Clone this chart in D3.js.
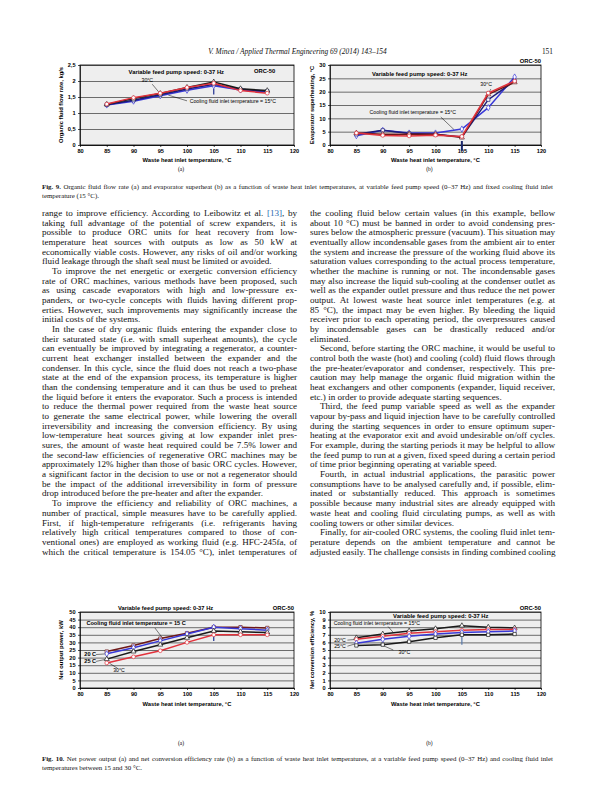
<!DOCTYPE html>
<html>
<head>
<meta charset="utf-8">
<script src="https://cdn.jsdelivr.net/npm/d3@7"></script>
<style>
  body { margin: 0; background: #fff; }
  #page { position: relative; width: 595px; height: 794px; overflow: hidden; font-family: "Liberation Serif", serif; color: #111; }
  #page svg { position: absolute; left: 0; top: 0; }
  .col { position: absolute; font-size: 9.1px; line-height: 9.68px; }
  .ln { white-space: nowrap; text-align: justify; text-align-last: justify; height: 9.68px; }
  .ln.end { text-align-last: left; }
  .ln.ind { text-indent: 10px; }
  .ref { color: #2a6ab0; }
  .cap { position: absolute; left: 42px; width: 511px; font-size: 6.9px; line-height: 9px; }
  .hdr { position: absolute; top: 47px; font-size: 7.4px; font-style: italic; }
</style>
</head>
<body>
<div id="page"></div>
<script>
// ---- chart data ----
const wasteTemp = [85, 90, 95, 100, 105, 110, 115];
const xTickValues = [80, 85, 90, 95, 100, 105, 110, 115, 120];

// Fig 9a organic fluid flow rate, kg/s
const flowTicks = [0, 0.5, 1, 1.5, 2, 2.5];
const flow15 = [1.25, 1.37, 1.54, 1.71, 1.85, 1.72, 1.66];
const flow20 = [1.26, 1.40, 1.57, 1.75, 1.90, 1.74, 1.68];
const flow25 = [1.27, 1.45, 1.61, 1.80, 1.97, 1.76, 1.70];
const flow30 = [1.28, 1.48, 1.62, 1.80, 1.93, 1.70, 1.62];
const flowFlag = [105, 1.58, 1.75];

// Fig 9b evaporator superheating, °C
const superheatTicks = [0, 5, 10, 15, 20, 25, 30];
const sh15 = [3.5, 5.5, 4.5, 4.5, 6.0, 14.0, 25.5];
const sh20 = [4.0, 5.5, 4.3, 4.0, 3.0, 17.0, 24.0];
const sh25 = [4.5, 4.0, 4.0, 4.0, 2.8, 19.0, 23.5];
const sh30 = [4.5, 3.6, 3.4, 3.7, 3.2, 19.5, 24.0];
const shFlag = [105, -2.2, 1.5];

// Fig 10a net output power, kW
const powerTicks = [0, 5, 10, 15, 20, 25, 30, 35, 40, 45, 50];
const pw15 = [24.0, 28.0, 32.5, 36.0, 40.0, 40.0, 39.5];
const pw20 = [22.5, 26.5, 31.0, 35.5, 40.0, 39.0, 38.0];
const pw25 = [19.0, 24.0, 28.5, 33.0, 37.5, 37.0, 36.5];
const pw30 = [16.5, 20.5, 24.5, 30.0, 35.0, 35.0, 35.0];
const pwFlag = [105, 31, 35];

// Fig 10b net conversion efficiency, %
const effTicks = [0, 1, 2, 3, 4, 5, 6, 7, 8, 9, 10];
const eff15 = [6.6, 7.1, 7.5, 7.8, 8.2, 8.0, 7.9];
const eff20 = [6.4, 6.8, 7.2, 7.4, 7.6, 7.7, 7.7];
const eff25 = [5.9, 6.4, 6.8, 7.1, 7.3, 7.4, 7.5];
const eff30 = [5.6, 5.7, 6.1, 6.6, 7.0, 7.0, 7.1];
const effFlag = [105, 5.7, 7.2];

// ---- page text ----
const leftParas = [
  { cont: true, ends: true, lines: [
    'range to improve efficiency. According to Leibowitz et al. <span class="ref">[13]</span>, by',
    'taking full advantage of the potential of screw expanders, it is',
    'possible to produce ORC units for heat recovery from low-',
    'temperature heat sources with outputs as low as 50 kW at',
    'economically viable costs. However, any risks of oil and/or working',
    'fluid leakage through the shaft seal must be limited or avoided.'] },
  { cont: false, ends: true, lines: [
    'To improve the net energetic or exergetic conversion efficiency',
    'rate of ORC machines, various methods have been proposed, such',
    'as using cascade evaporators with high and low-pressure ex-',
    'panders, or two-cycle concepts with fluids having different prop-',
    'erties. However, such improvements may significantly increase the',
    'initial costs of the systems.'] },
  { cont: false, ends: true, lines: [
    'In the case of dry organic fluids entering the expander close to',
    'their saturated state (i.e. with small superheat amounts), the cycle',
    'can eventually be improved by integrating a regenerator, a counter-',
    'current heat exchanger installed between the expander and the',
    'condenser. In this cycle, since the fluid does not reach a two-phase',
    'state at the end of the expansion process, its temperature is higher',
    'than the condensing temperature and it can thus be used to preheat',
    'the liquid before it enters the evaporator. Such a process is intended',
    'to reduce the thermal power required from the waste heat source',
    'to generate the same electrical power, while lowering the overall',
    'irreversibility and increasing the conversion efficiency. By using',
    'low-temperature heat sources giving at low expander inlet pres-',
    'sures, the amount of waste heat required could be 7.5% lower and',
    'the second-law efficiencies of regenerative ORC machines may be',
    'approximately 12% higher than those of basic ORC cycles. However,',
    'a significant factor in the decision to use or not a regenerator should',
    'be the impact of the additional irreversibility in form of pressure',
    'drop introduced before the pre-heater and after the expander.'] },
  { cont: false, ends: false, lines: [
    'To improve the efficiency and reliability of ORC machines, a',
    'number of practical, simple measures have to be carefully applied.',
    'First, if high-temperature refrigerants (i.e. refrigerants having',
    'relatively high critical temperatures compared to those of con-',
    'ventional ones) are employed as working fluid (e.g. HFC-245fa, of',
    'which the critical temperature is 154.05 °C), inlet temperatures of'] }
];

const rightParas = [
  { cont: true, ends: true, lines: [
    'the cooling fluid below certain values (in this example, bellow',
    'about 10 °C) must be banned in order to avoid condensing pres-',
    'sures below the atmospheric pressure (vacuum). This situation may',
    'eventually allow incondensable gases from the ambient air to enter',
    'the system and increase the pressure of the working fluid above its',
    'saturation values corresponding to the actual process temperature,',
    'whether the machine is running or not. The incondensable gases',
    'may also increase the liquid sub-cooling at the condenser outlet as',
    'well as the expander outlet pressure and thus reduce the net power',
    'output. At lowest waste heat source inlet temperatures (e.g. at',
    '85 °C), the impact may be even higher. By bleeding the liquid',
    'receiver prior to each operating period, the overpressures caused',
    'by incondensable gases can be drastically reduced and/or',
    'eliminated.'] },
  { cont: false, ends: true, lines: [
    'Second, before starting the ORC machine, it would be useful to',
    'control both the waste (hot) and cooling (cold) fluid flows through',
    'the pre-heater/evaporator and condenser, respectively. This pre-',
    'caution may help manage the organic fluid migration within the',
    'heat exchangers and other components (expander, liquid receiver,',
    'etc.) in order to provide adequate starting sequences.'] },
  { cont: false, ends: true, lines: [
    'Third, the feed pump variable speed as well as the expander',
    'vapour by-pass and liquid injection have to be carefully controlled',
    'during the starting sequences in order to ensure optimum super-',
    'heating at the evaporator exit and avoid undesirable on/off cycles.',
    'For example, during the starting periods it may be helpful to allow',
    'the feed pump to run at a given, fixed speed during a certain period',
    'of time prior beginning operating at variable speed.'] },
  { cont: false, ends: true, lines: [
    'Fourth, in actual industrial applications, the parasitic power',
    'consumptions have to be analysed carefully and, if possible, elim-',
    'inated or substantially reduced. This approach is sometimes',
    'possible because many industrial sites are already equipped with',
    'waste heat and cooling fluid circulating pumps, as well as with',
    'cooling towers or other similar devices.'] },
  { cont: false, ends: false, lines: [
    'Finally, for air-cooled ORC systems, the cooling fluid inlet tem-',
    'perature depends on the ambient temperature and cannot be',
    'adjusted easily. The challenge consists in finding combined cooling'] }
];

const page = d3.select("#page");

// header
page.append("div").attr("class", "hdr").style("left", "0px").style("width", "595px")
  .style("text-align", "center").text("V. Minea / Applied Thermal Engineering 69 (2014) 143–154");
page.append("div").attr("class", "hdr").style("left", "530px").style("width", "23px")
  .style("text-align", "right").style("font-style", "normal").text("151");

// text columns
function drawColumn(paras, left, width, top) {
  const col = page.append("div").attr("class", "col")
    .style("left", left + "px").style("top", top + "px").style("width", width + "px");
  paras.forEach(p => {
    p.lines.forEach((t, i) => {
      let cls = "ln";
      if (i === 0 && !p.cont) cls += " ind";
      if (i === p.lines.length - 1 && p.ends) cls += " end";
      col.append("div").attr("class", cls).html(t);
    });
  });
}
drawColumn(leftParas, 42, 255, 209);
drawColumn(rightParas, 310, 245, 209);

// captions
function drawCaption(top, label, line1, line2) {
  const c = page.append("div").attr("class", "cap").style("top", top + "px");
  c.append("div").attr("class", "ln").style("height", "9px").html("<b>" + label + "</b> " + line1);
  c.append("div").attr("class", "ln end").style("height", "9px").text(line2);
}
drawCaption(182, "Fig. 9.",
  "Organic fluid flow rate (a) and evaporator superheat (b) as a function of waste heat inlet temperatures, at variable feed pump speed (0–37 Hz) and fixed cooling fluid inlet",
  "temperature (15 °C).");
drawCaption(754, "Fig. 10.",
  "Net power output (a) and net conversion efficiency rate (b) as a function of waste heat inlet temperatures, at a variable feed pump speed (0–37 Hz) and cooling fluid inlet",
  "temperatures between 15 and 30 °C.");

// charts
const svg = page.append("svg").attr("width", 595).attr("height", 794);
const sans = '"Liberation Sans", Arial, sans-serif';
const narrow = '"Liberation Sans Narrow", "Liberation Sans", Arial, sans-serif';
const comma = d => d3.format(".1~f")(d).replace(".", ",");

function drawChart(cfg) {
  const x = d3.scaleLinear().domain([80, 120]).range([cfg.left, cfg.left + cfg.width]);
  const y = d3.scaleLinear().domain([cfg.yTicks[0], cfg.yTicks[cfg.yTicks.length - 1]])
    .range([cfg.top + cfg.height, cfg.top]);
  const g = svg.append("g");

  g.append("rect").attr("x", cfg.left).attr("y", cfg.top)
    .attr("width", cfg.width).attr("height", cfg.height).attr("fill", "#eeeeee");

  g.append("g").attr("transform", `translate(${cfg.left},0)`)
    .call(d3.axisLeft(y).tickValues(cfg.yTicks).tickSize(-cfg.width).tickFormat(""))
    .call(s => s.select(".domain").remove())
    .selectAll("line").attr("stroke", "#333").attr("stroke-width", 0.7);

  g.append("rect").attr("x", cfg.left).attr("y", cfg.top)
    .attr("width", cfg.width).attr("height", cfg.height)
    .attr("fill", "none").attr("stroke", "#000").attr("stroke-width", 0.8);

  const ax = g.append("g").attr("transform", `translate(0,${cfg.top + cfg.height})`)
    .call(d3.axisBottom(x).tickValues(xTickValues).tickSize(2).tickPadding(2.5).tickSizeOuter(0));
  const ay = g.append("g").attr("transform", `translate(${cfg.left},0)`)
    .call(d3.axisLeft(y).tickValues(cfg.yTicks).tickFormat(cfg.yFormat || d3.format("d"))
      .tickSize(2).tickPadding(2.5).tickSizeOuter(0));
  [ax, ay].forEach(a => {
    a.attr("font-family", sans).attr("font-size", 5.6).attr("font-weight", "bold");
    a.selectAll("path, line").attr("stroke", "#000").attr("stroke-width", 0.7);
    a.selectAll("text").attr("fill", "#000");
  });

  g.append("text").attr("x", cfg.left + cfg.width / 2).attr("y", cfg.top + cfg.height + cfg.xTitleDy)
    .attr("text-anchor", "middle").attr("font-family", sans).attr("font-size", 5.8)
    .attr("font-weight", "bold").text("Waste heat inlet temperature, °C");
  g.append("text").attr("transform", `translate(${cfg.yTitleX},${cfg.top + cfg.height / 2}) rotate(-90)`)
    .attr("text-anchor", "middle").attr("font-family", sans).attr("font-size", 5.8)
    .attr("font-weight", "bold").text(cfg.yTitle);
  g.append("text").attr("x", cfg.left + cfg.width / 2 - 6).attr("y", cfg.panelY)
    .attr("text-anchor", "middle").attr("font-family", '"Liberation Serif", serif')
    .attr("font-size", 5.5).text(cfg.panel);

  // annotation leaders behind lines
  cfg.notes.filter(n => n.leader).forEach(n => {
    g.append("line").attr("x1", x(n.leader[0])).attr("y1", y(n.leader[1]))
      .attr("x2", x(n.leader[2])).attr("y2", y(n.leader[3]))
      .attr("stroke", "#000").attr("stroke-width", 0.5);
  });

  // flag segment at 105
  g.append("line").attr("x1", x(cfg.flag[0])).attr("x2", x(cfg.flag[0]))
    .attr("y1", y(cfg.flag[1])).attr("y2", y(cfg.flag[2]))
    .attr("stroke", cfg.flagColor || "#1f2f8f").attr("stroke-width", cfg.flagWidth || 1.2);

  const line = d3.line().x((d, i) => x(wasteTemp[i])).y(d => y(d));
  cfg.series.forEach(s => {
    g.append("path").datum(s.values).attr("d", line)
      .attr("fill", "none").attr("stroke", s.color).attr("stroke-width", 1.5);
    g.selectAll(null).data(s.values).enter().append("path")
      .attr("transform", (d, i) => `translate(${x(wasteTemp[i])},${y(d)})`)
      .attr("d", d3.symbol().type(s.marker).size(11))
      .attr("fill", "#fff").attr("stroke", s.color).attr("stroke-width", 0.7);
  });

  cfg.notes.forEach(n => {
    g.append("text").attr("x", x(n.x)).attr("y", y(n.y))
      .attr("text-anchor", n.anchor || "start")
      .attr("font-family", n.bold ? sans : narrow)
      .attr("font-weight", n.bold ? "bold" : "normal")
      .attr("font-size", n.size || 5.2).attr("fill", "#000").text(n.text);
  });
}

const blue = "#3838d8", navy = "#1c1c78", black = "#1a1a1a", red = "#e2323c", maroon = "#6e1818";

drawChart({
  left: 80, top: 65, width: 214, height: 80, yTicks: flowTicks, yFormat: comma,
  yTitle: "Organic fluid flow rate, kg/s", yTitleX: 63, xTitleDy: 17, panel: "(a)", panelY: 171,
  flag: flowFlag,
  series: [
    { values: flow15, color: blue, marker: d3.symbolDiamond },
    { values: flow20, color: navy, marker: d3.symbolSquare },
    { values: flow25, color: black, marker: d3.symbolTriangle },
    { values: flow30, color: red, marker: d3.symbolCircle }
  ],
  notes: [
    { text: "Variable feed pump speed: 0-37 Hz", x: 98, y: 2.22, anchor: "middle", bold: true, size: 5.8 },
    { text: "ORC-50", x: 114.5, y: 2.25, anchor: "middle", bold: true, size: 5.8 },
    { text: "30°C", x: 91.5, y: 1.98, leader: [93.5, 1.9, 95, 1.6] },
    { text: "Cooling fluid inlet temperature = 15°C", x: 100.5, y: 1.3, leader: [100, 1.38, 96.5, 1.56] }
  ]
});

drawChart({
  left: 330, top: 65, width: 211, height: 80, yTicks: superheatTicks,
  yTitle: "Evaporator superheating, °C", yTitleX: 314, xTitleDy: 17, panel: "(b)", panelY: 171,
  flag: shFlag, flagColor: "#1c2a6e", flagWidth: 2,
  series: [
    { values: sh15, color: blue, marker: d3.symbolDiamond },
    { values: sh20, color: navy, marker: d3.symbolSquare },
    { values: sh25, color: maroon, marker: d3.symbolTriangle },
    { values: sh30, color: red, marker: d3.symbolCircle }
  ],
  notes: [
    { text: "Variable feed pump speed:  0-37 Hz", x: 97, y: 26, anchor: "middle", bold: true, size: 5.8 },
    { text: "ORC-50", x: 120, y: 30.8, anchor: "end", bold: true, size: 5.8 },
    { text: "30°C", x: 108.5, y: 22, leader: [110.5, 21, 109.5, 17.5] },
    { text: "Cooling fluid inlet temperature = 15°C", x: 87.5, y: 11.5, leader: [101, 10.5, 103.5, 5.8] }
  ]
});

drawChart({
  left: 80, top: 612, width: 214, height: 76, yTicks: powerTicks,
  yTitle: "Net output power, kW", yTitleX: 63, xTitleDy: 18, panel: "(a)", panelY: 745,
  flag: pwFlag,
  series: [
    { values: pw15, color: maroon, marker: d3.symbolSquare },
    { values: pw20, color: blue, marker: d3.symbolDiamond },
    { values: pw25, color: black, marker: d3.symbolTriangle },
    { values: pw30, color: red, marker: d3.symbolCircle }
  ],
  notes: [
    { text: "Variable feed pump speed: 0-37 Hz", x: 96, y: 51.3, anchor: "middle", bold: true, size: 5.8 },
    { text: "ORC-50", x: 120, y: 51.3, anchor: "end", bold: true, size: 5.8 },
    { text: "Cooling fluid inlet temperature = 15 C", x: 81.2, y: 41.3, bold: true, size: 5.6, leader: [94, 39.5, 95.5, 32.5] },
    { text: "20 C", x: 80.8, y: 20.8, bold: true, size: 5.6, leader: [83, 22, 85, 22.5] },
    { text: "25 C", x: 80.8, y: 16.3, bold: true, size: 5.6, leader: [83, 17.5, 85, 19] },
    { text: "30°C", x: 86.2, y: 10.8, leader: [87, 13, 85.5, 16.3] }
  ]
});

drawChart({
  left: 330, top: 612, width: 211, height: 76, yTicks: effTicks,
  yTitle: "Net conversion efficiency, %", yTitleX: 314, xTitleDy: 18, panel: "(b)", panelY: 745,
  flag: effFlag, flagColor: "#5878a8",
  series: [
    { values: eff15, color: black, marker: d3.symbolTriangle },
    { values: eff20, color: red, marker: d3.symbolCircle },
    { values: eff25, color: blue, marker: d3.symbolDiamond },
    { values: eff30, color: black, marker: d3.symbolSquare }
  ],
  notes: [
    { text: "Variable feed pump speed: 0-37 Hz", x: 101, y: 9.25, anchor: "middle", bold: true, size: 5.8 },
    { text: "ORC-50", x: 120, y: 10.25, anchor: "end", bold: true, size: 5.8 },
    { text: "Cooling fluid inlet temperature = 15°C", x: 80.7, y: 8.3, leader: [91, 8.1, 92, 7.3] },
    { text: "20°C", x: 80.8, y: 6.1, leader: [83.3, 6.3, 85, 6.4] },
    { text: "25°C", x: 80.8, y: 5.3, leader: [83.3, 5.5, 85, 5.85] },
    { text: "30°C", x: 93, y: 4.5, leader: [92, 5.0, 90, 5.6] }
  ]
});
</script>
</body>
</html>
